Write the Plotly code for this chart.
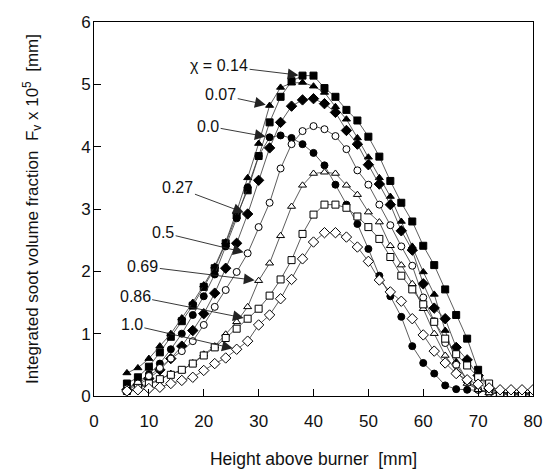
import plotly.graph_objects as go

heights = list(range(6, 82, 2))  # 6..80 mm

chi_014 = [0.20, 0.30, 0.47, 0.70, 0.95, 1.20, 1.45, 1.75, 2.05, 2.45, 2.90, 3.30, 3.85, 4.39, 4.80, 5.05,
           5.14, 5.14, 4.94, 4.80, 4.59, 4.42, 4.16, 3.84, 3.45, 3.10, 2.80, 2.41, 2.10, 1.71, 1.30, 0.92,
           0.42, 0.12, 0.06, 0.04, 0.04, 0.04]
chi_007 = [0.37, 0.45, 0.60, 0.80, 1.00, 1.25, 1.50, 1.78, 2.08, 2.47, 2.96, 3.50, 4.05, 4.66, 4.95, 5.02,
           5.03, 4.97, 4.87, 4.64, 4.44, 4.14, 3.83, 3.50, 3.20, 2.80, 2.40, 1.99, 1.63, 1.05, 0.55, 0.25,
           0.10, 0.05, 0.03, 0.03, 0.03, 0.03]
chi_000 = [0.12, 0.22, 0.35, 0.52, 0.75, 1.00, 1.30, 1.60, 1.95, 2.40, 2.85, 3.35, 3.85, 4.15, 4.18, 4.14,
           4.04, 3.90, 3.70, 3.39, 3.07, 2.76, 2.36, 1.93, 1.60, 1.27, 0.80, 0.53, 0.36, 0.17, 0.11, 0.10,
           0.10, 0.08, 0.05, 0.05, 0.05, 0.05]
chi_027 = [0.10, 0.18, 0.28, 0.42, 0.60, 0.80, 1.05, 1.32, 1.65, 2.05, 2.45, 2.92, 3.46, 3.98, 4.39, 4.65,
           4.75, 4.77, 4.69, 4.55, 4.26, 4.04, 3.71, 3.40, 3.07, 2.65, 2.34, 1.80, 1.41, 1.24, 0.78, 0.58,
           0.33, 0.12, 0.05, 0.04, 0.04, 0.04]
chi_050 = [0.12, 0.20, 0.32, 0.45, 0.60, 0.72, 0.88, 1.14, 1.43, 1.70, 1.99, 2.29, 2.71, 3.10, 3.65, 4.04,
           4.25, 4.33, 4.28, 4.17, 3.96, 3.62, 3.39, 3.07, 2.74, 2.40, 2.09, 1.58, 1.20, 0.85, 0.50, 0.25,
           0.10, 0.05, 0.04, 0.04, 0.04, 0.04]
chi_069 = [0.08, 0.12, 0.18, 0.26, 0.36, 0.41, 0.53, 0.67, 0.80, 0.99, 1.19, 1.43, 1.85, 2.13, 2.57, 3.04,
           3.38, 3.57, 3.59, 3.57, 3.38, 3.23, 2.95, 2.79, 2.41, 2.10, 1.80, 1.40, 1.00, 0.65, 0.40, 0.20,
           0.10, 0.05, 0.03, 0.03, 0.03, 0.03]
chi_086 = [0.08, 0.13, 0.20, 0.27, 0.34, 0.42, 0.52, 0.65, 0.78, 0.93, 1.08, 1.24, 1.40, 1.61, 1.87, 2.18,
           2.60, 2.91, 3.07, 3.07, 3.02, 2.88, 2.71, 2.52, 2.23, 1.93, 1.71, 1.47, 1.19, 0.92, 0.67, 0.49,
           0.30, 0.20, 0.05, 0.02, 0.02, 0.02]
chi_100 = [0.08, 0.10, 0.12, 0.14, 0.20, 0.25, 0.30, 0.41, 0.52, 0.61, 0.75, 0.88, 1.14, 1.30, 1.56, 1.87,
           2.20, 2.47, 2.62, 2.62, 2.55, 2.39, 2.16, 1.86, 1.67, 1.52, 1.24, 0.98, 0.72, 0.53, 0.36, 0.26,
           0.19, 0.13, 0.10, 0.10, 0.10, 0.10]

series = [
    ("0.14", chi_014, "square", "black"),
    ("0.07", chi_007, "triangle-up", "black"),
    ("0.0", chi_000, "circle", "black"),
    ("0.27", chi_027, "diamond", "black"),
    ("0.5", chi_050, "circle", "white"),
    ("0.69", chi_069, "triangle-up", "white"),
    ("0.86", chi_086, "square", "white"),
    ("1.0", chi_100, "diamond", "white"),
]

# label text, label position (data coords), height of the pointed-to point
label_pos = {
    "0.14": ("\u03c7 = 0.14", 22.8, 5.30, 38),
    "0.07": ("0.07", 23.1, 4.83, 32),
    "0.0": ("0.0", 20.8, 4.33, 32),
    "0.27": ("0.27", 15.3, 3.34, 28),
    "0.5": ("0.5", 12.6, 2.62, 28),
    "0.69": ("0.69", 8.9, 2.08, 30),
    "0.86": ("0.86", 7.5, 1.60, 28),
    "1.0": ("1.0", 6.9, 1.14, 26),
}

fig = go.Figure()
annotations = []
for name, vals, sym, fill in series:
    size = 8 if sym == "diamond" else 7
    fig.add_trace(go.Scatter(
        x=heights, y=vals, mode="lines+markers", name=name,
        line=dict(color="#333333", width=0.8),
        marker=dict(symbol=sym, size=size, color=fill, line=dict(color="black", width=1)),
        showlegend=False,
    ))
    text, tx, ty, hx = label_pos[name]
    i = heights.index(hx)
    annotations.append(dict(
        x=heights[i], y=vals[i], xref="x", yref="y",
        ax=tx, ay=ty, axref="x", ayref="y",
        text=text, showarrow=True, arrowhead=2, arrowsize=2.4, arrowwidth=0.9,
        arrowcolor="#222222", standoff=4,
        font=dict(family="Liberation Sans, Arial, sans-serif", size=16, color="#111111"),
    ))

# page body has an 8px margin, so the figure is sized/offset to compensate
fig.update_layout(
    width=545, height=464,
    margin=dict(l=86, r=20, t=5, b=76),
    paper_bgcolor="white", plot_bgcolor="white",
    font=dict(family="Liberation Sans, Arial, sans-serif", size=17, color="#111111"),
    annotations=annotations,
)
fig.update_xaxes(
    range=[0, 80], tickvals=[0, 10, 20, 30, 40, 50, 60, 70, 80],
    ticks="inside", ticklen=7, tickcolor="black", tickwidth=1,
    showline=True, linecolor="black", linewidth=1, mirror=True, showgrid=False, zeroline=False,
    title=dict(text="Height above burner  [mm]", standoff=22, font=dict(size=17.5)),
    tickfont=dict(size=17), ticklabeloverflow="allow", ticklabelstandoff=10,
)
fig.update_yaxes(
    range=[0, 6], tickvals=[0, 1, 2, 3, 4, 5, 6],
    ticks="inside", ticklen=7, tickcolor="black", tickwidth=1,
    showline=True, linecolor="black", linewidth=1, mirror=True, showgrid=False, zeroline=False,
    title=dict(text="Integrated soot volume fraction  F<sub>v</sub> x 10<sup>5</sup>  [mm]", standoff=38, font=dict(size=17)),
    tickfont=dict(size=17), ticklabeloverflow="allow", ticklabelstandoff=-1,
)

fig.write_html("out.html")
